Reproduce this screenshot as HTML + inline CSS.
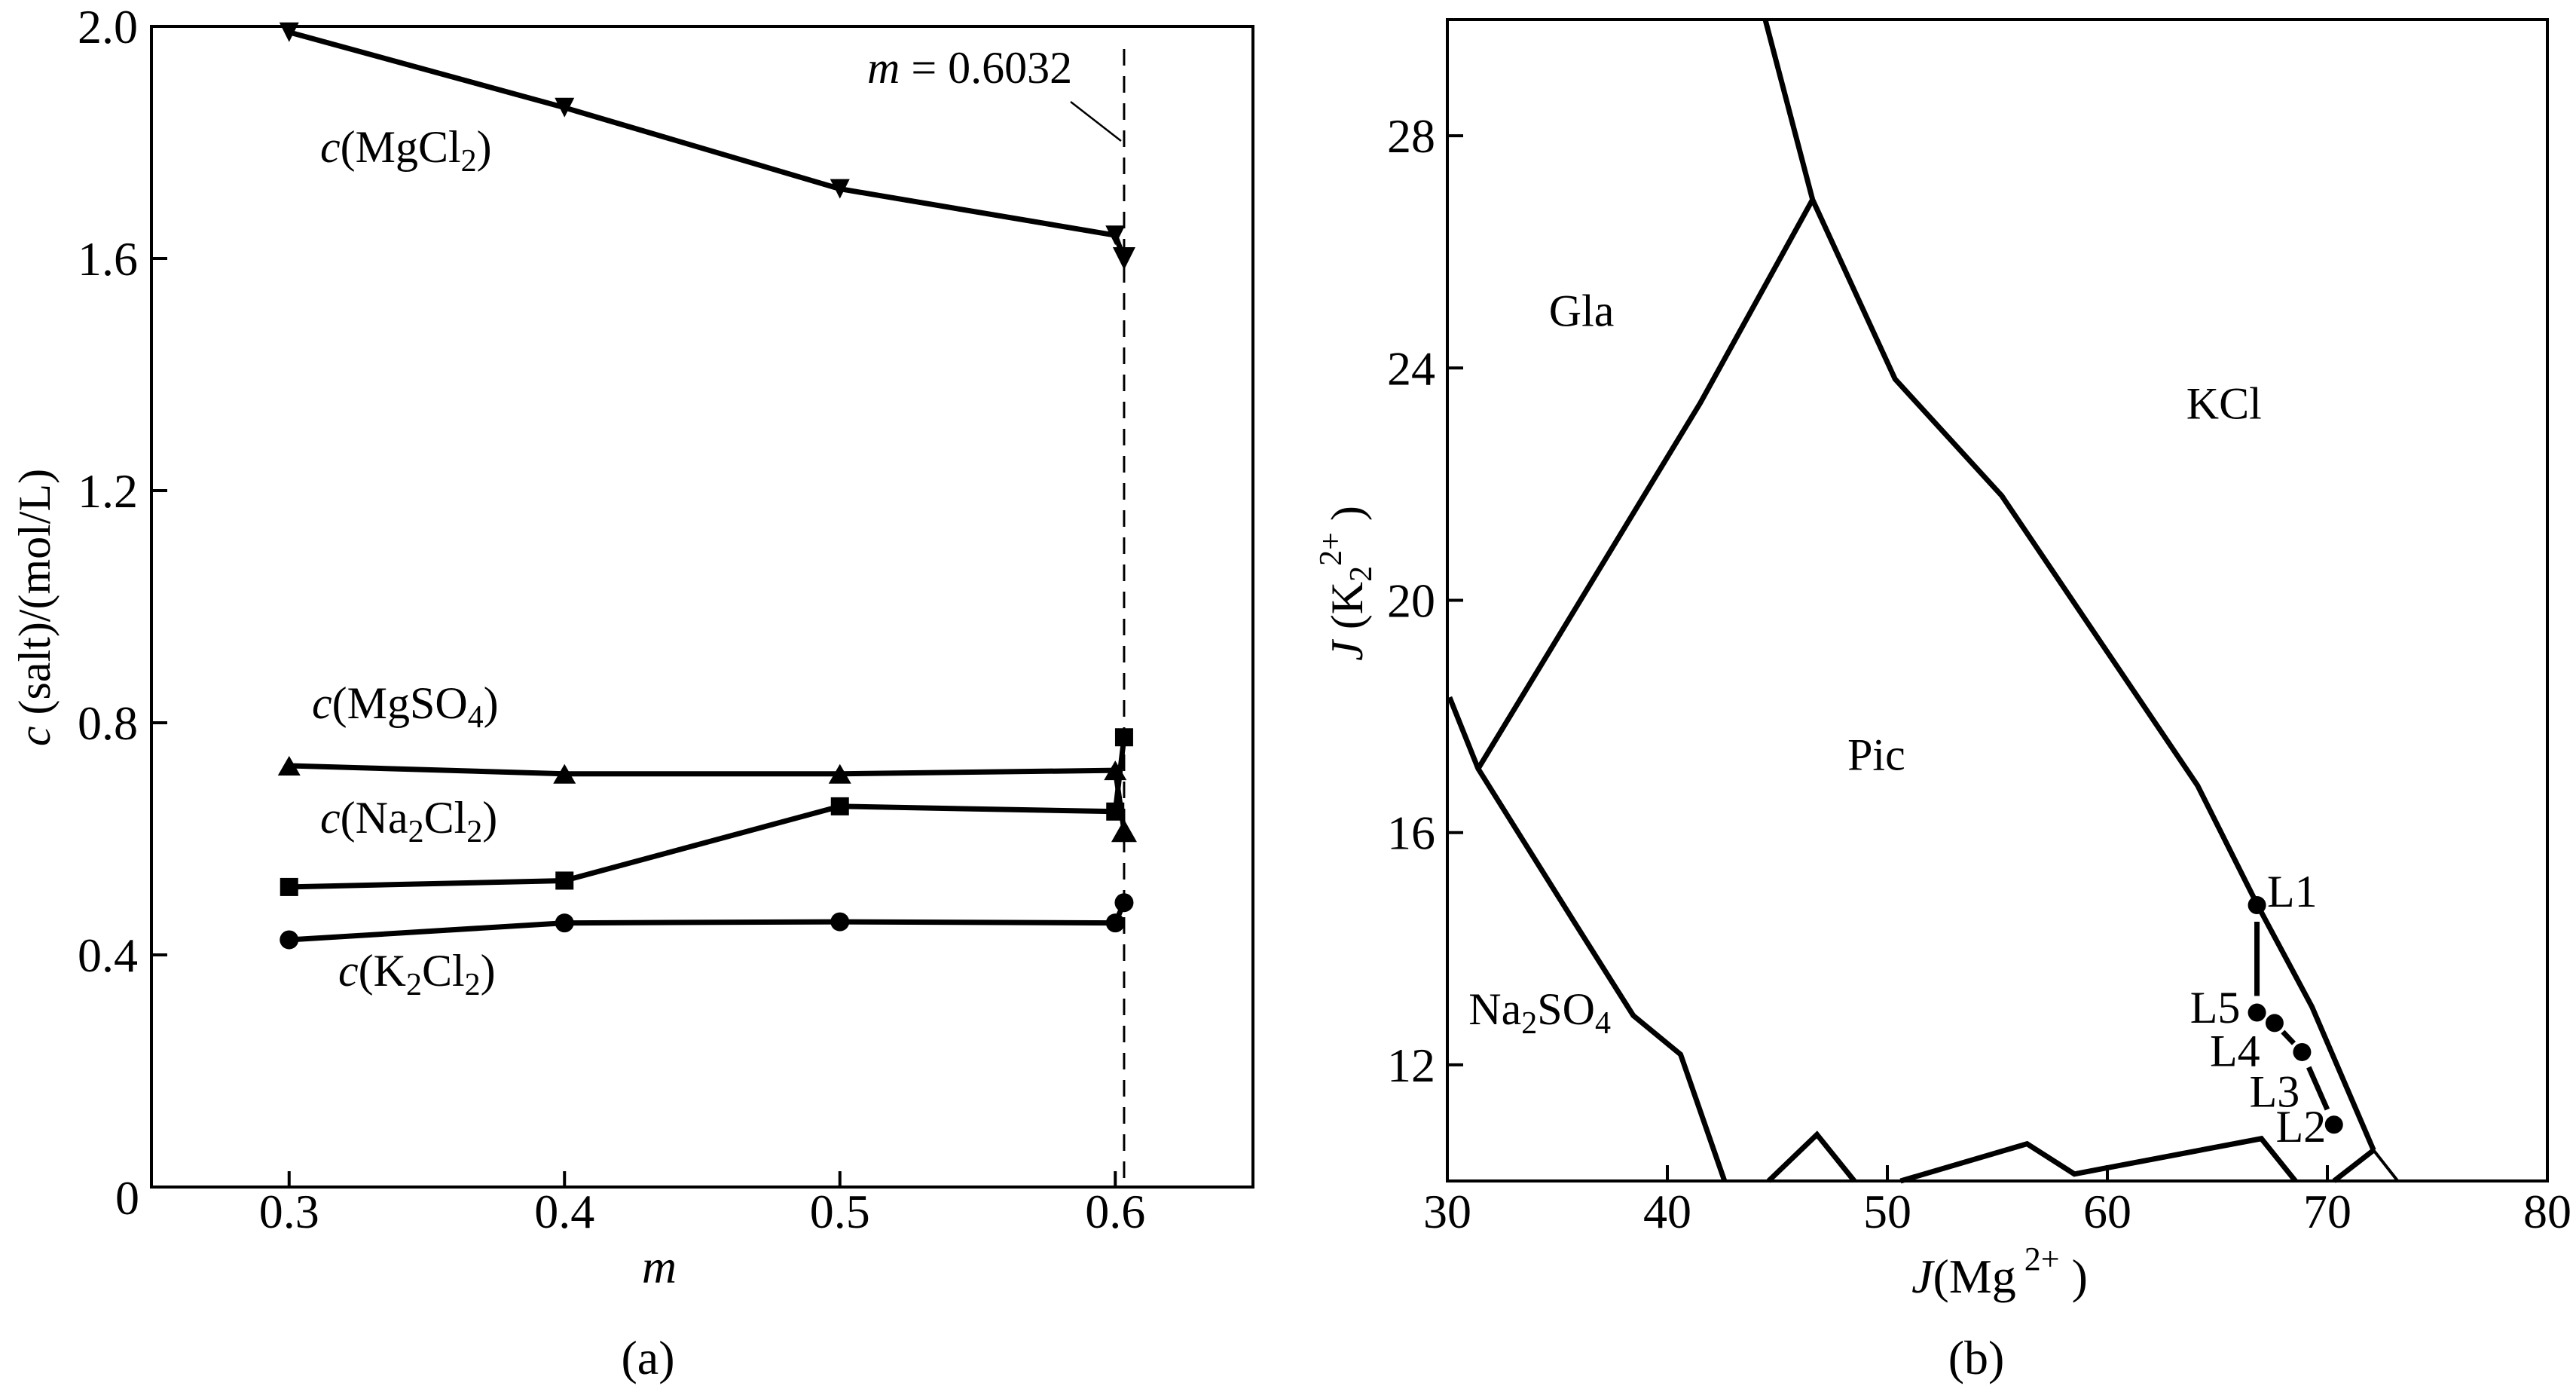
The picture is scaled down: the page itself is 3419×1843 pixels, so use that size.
<!DOCTYPE html>
<html><head><meta charset="utf-8"><style>
body{margin:0;background:#fff}
svg{display:block}
text{font-family:"Liberation Serif",serif;fill:#000}
</style></head><body>
<svg id="svg" width="3419" height="1843" viewBox="0 0 3419 1843" xmlns="http://www.w3.org/2000/svg"></svg>
<script>
// ---- Chart (a) data ----
const mVals = [0.3, 0.4, 0.5, 0.6, 0.6032];
const mgcl2 = [1.99, 1.86, 1.72, 1.64, 1.60];
const mgso4 = [0.726, 0.712, 0.712, 0.718, 0.614];
const na2cl2 = [0.517, 0.528, 0.656, 0.647, 0.775];
const k2cl2 = [0.426, 0.455, 0.457, 0.455, 0.49];
const xTicksA = [0.3, 0.4, 0.5, 0.6];
const yTicksA = [0.4, 0.8, 1.2, 1.6, 2.0];
const mLine = 0.6032;
// ---- Chart (b) data ----
const bTop = [[44.45,30],[46.6,26.9],[50.35,23.81],[55.2,21.8],[64.1,16.81],[66.8,14.77],[69.3,13.0],[72.1,10.53]];
const bTopEnd = [[72.1,10.53],[73.2,10]];
const bGla = [[46.6,26.9],[41.5,23.4],[31.4,17.1]];
const bLeft = [[30.1,18.33],[31.4,17.1],[35.7,14.5],[38.45,12.85],[40.6,12.18],[42.6,10]];
const bBump = [[44.6,10],[46.8,10.8],[48.5,10]];
const bBottom = [[50.6,10],[56.35,10.64],[58.5,10.12],[67.0,10.73],[68.55,10]];
const bRight = [[70.3,10],[72.1,10.53]];
const lNames = ["L1","L5","L4","L3","L2"];
const lX = [66.8, 66.8, 67.6, 68.85, 70.3];
const lY = [14.75, 12.9, 12.72, 12.22, 10.97];
const lLabX = [68.4, 64.9, 65.8, 67.6, 68.8];
const lLabY = [15.0, 13.0, 12.25, 11.55, 10.95];
const xTicksB = [30,40,50,60,70,80];
const yTicksB = [12,16,20,24,28];

const NS="http://www.w3.org/2000/svg";
const svg=document.getElementById('svg');
function el(tag,attrs,parent){const e=document.createElementNS(NS,tag);for(const k in attrs)e.setAttribute(k,attrs[k]);(parent||svg).appendChild(e);return e;}
function txt(x,y,html,size,anchor,name,parent){const t=el('text',{x:x,y:y,'font-size':size,'text-anchor':anchor||'middle'},parent);t.innerHTML=html;


return t;}

// ===== Chart A =====
const A={x0:201,x1:1663,y0:1575,y1:35};
const ax=v=>A.x0+(v-0.25)/(0.65-0.25)*(A.x1-A.x0);
const ay=v=>A.y0-(v-0)/(2.0)*(A.y0-A.y1);
const gA=el('g',{});


const frA=el('rect',{x:A.x0,y:A.y1,width:A.x1-A.x0,height:A.y0-A.y1,fill:'none',stroke:'#000','stroke-width':4},gA);


xTicksA.forEach(v=>{const t=el('line',{x1:ax(v),x2:ax(v),y1:A.y0,y2:A.y0-21,stroke:'#000','stroke-width':4},gA);


txt(ax(v),1629,v.toFixed(1),64,'middle','x-tick-label',gA);});
yTicksA.forEach(v=>{const t=el('line',{x1:A.x0,x2:A.x0+21,y1:ay(v),y2:ay(v),stroke:'#000','stroke-width':4},gA);


txt(183,ay(v)+22,v.toFixed(1),64,'end','y-tick-label',gA);});
txt(169,1611,'0',64,'middle','origin-label',gA);
const dl=el('line',{x1:ax(mLine),x2:ax(mLine),y1:A.y1+30,y2:A.y0,stroke:'#000','stroke-width':3,'stroke-dasharray':'22,14'},gA);


const ll=el('line',{x1:1421,y1:135,x2:ax(mLine)-4,y2:187,stroke:'#000','stroke-width':2.5},gA);


txt(1151,110,'<tspan font-style="italic">m</tspan> = 0.6032',60,'start','m-annotation',gA);

function series(vals,marker,name){
 const pts=mVals.map((m,i)=>[ax(m),ay(vals[i])]);
 const p=el('polyline',{points:pts.map(p=>p.join(',')).join(' '),fill:'none',stroke:'#000','stroke-width':7,'stroke-linejoin':'round'},gA);
 
 
 pts.forEach(([x,y],i)=>{let m;const s=(i==4)?15:13;
  if(marker=='down') m=el('polygon',{points:`${x-s},${y-s} ${x+s},${y-s} ${x},${y+s}`,fill:'#000'},gA);
  else if(marker=='up') m=el('polygon',{points:`${x-s-2},${y+s} ${x+s+2},${y+s} ${x},${y-s}`,fill:'#000'},gA);
  else if(marker=='sq') m=el('rect',{x:x-12,y:y-12,width:24,height:24,fill:'#000'},gA);
  else m=el('circle',{cx:x,cy:y,r:12.5,fill:'#000'},gA);
  
  });
}
series(mgcl2,'down','mgcl2');
series(mgso4,'up','mgso4');
series(na2cl2,'sq','na2cl2');
series(k2cl2,'circ','k2cl2');
txt(425,215,'<tspan font-style="italic">c</tspan>(MgCl<tspan font-size="42" dy="12">2</tspan><tspan dy="-12">)</tspan>',60,'start','label-mgcl2',gA);
txt(414,953,'<tspan font-style="italic">c</tspan>(MgSO<tspan font-size="42" dy="12">4</tspan><tspan dy="-12">)</tspan>',60,'start','label-mgso4',gA);
txt(425,1105,'<tspan font-style="italic">c</tspan>(Na<tspan font-size="42" dy="12">2</tspan><tspan dy="-12">Cl</tspan><tspan font-size="42" dy="12">2</tspan><tspan dy="-12">)</tspan>',60,'start','label-na2cl2',gA);
txt(449,1308,'<tspan font-style="italic">c</tspan>(K<tspan font-size="42" dy="12">2</tspan><tspan dy="-12">Cl</tspan><tspan font-size="42" dy="12">2</tspan><tspan dy="-12">)</tspan>',60,'start','label-k2cl2',gA);
const yt=txt(0,0,'<tspan font-style="italic">c</tspan> (salt)/(mol/L)',60,'middle','y-axis-title-a',gA);
yt.setAttribute('transform','translate(66,806) rotate(-90)');
txt(875,1702,'<tspan font-style="italic">m</tspan>',64,'middle','x-axis-title-a',gA);
txt(860,1823,'(a)',64,'middle','caption-a',gA);

// ===== Chart B =====
const B={x0:1921,x1:3381,y0:1567,y1:26};
const bx=v=>B.x0+(v-30)/50*(B.x1-B.x0);
const by=v=>B.y0-(v-10)/20*(B.y0-B.y1);
const gB=el('g',{});


const frB=el('rect',{x:B.x0,y:B.y1,width:B.x1-B.x0,height:B.y0-B.y1,fill:'none',stroke:'#000','stroke-width':4},gB);


xTicksB.forEach(v=>{const t=el('line',{x1:bx(v),x2:bx(v),y1:B.y0,y2:B.y0-21,stroke:'#000','stroke-width':4},gB);


txt(bx(v),1629,String(v),64,'middle','x-tick-label',gB);});
yTicksB.forEach(v=>{const t=el('line',{x1:B.x0,x2:B.x0+21,y1:by(v),y2:by(v),stroke:'#000','stroke-width':4},gB);


txt(1905,by(v)+22,String(v),64,'end','y-tick-label',gB);});
function bline(arr,w,name){const p=el('polyline',{points:arr.map(q=>bx(q[0])+','+by(q[1])).join(' '),fill:'none',stroke:'#000','stroke-width':w,'stroke-linejoin':'miter'},gB);

}
bline(bTop,7,'kcl-pic-boundary');
bline(bTopEnd,4,'kcl-boundary-end');
bline(bGla,7,'gla-pic-boundary');
bline(bLeft,7,'na2so4-boundary');
bline(bBump,7,'bottom-bump-boundary');
bline(bBottom,7,'bottom-boundary');
bline(bRight,7,'right-bottom-boundary');
for(let i=0;i<lX.length-1;i++){
 if(i==1) continue;
 const x1=bx(lX[i]),y1=by(lY[i]),x2=bx(lX[i+1]),y2=by(lY[i+1]);
 const d=Math.hypot(x2-x1,y2-y1),g=Math.min(22,d*0.3),ux=(x2-x1)/d,uy=(y2-y1)/d;
 const s=el('line',{x1:x1+ux*g,y1:y1+uy*g,x2:x2-ux*g,y2:y2-uy*g,stroke:'#000','stroke-width':7},gB);
 
 
}
lX.forEach((x,i)=>{const c=el('circle',{cx:bx(x),cy:by(lY[i]),r:12,fill:'#000'},gB);


txt(bx(lLabX[i]),by(lLabY[i])+21,lNames[i],60,'middle','label-'+lNames[i].toLowerCase(),gB);});
txt(bx(36.1),by(25.0)+21,'Gla',60,'middle','region-gla',gB);
txt(bx(65.3),by(23.4)+21,'KCl',60,'middle','region-kcl',gB);
txt(bx(49.5),by(17.35)+21,'Pic',60,'middle','region-pic',gB);
txt(bx(34.2),by(12.97)+21,'Na<tspan font-size="42" dy="12">2</tspan><tspan dy="-12">SO</tspan><tspan font-size="42" dy="12">4</tspan>',60,'middle','region-na2so4',gB);
const yb=txt(0,0,'<tspan font-style="italic">J</tspan> (K<tspan font-size="42" dy="12">2</tspan><tspan font-size="42" dy="-40">2+</tspan><tspan dy="28"> )</tspan>',60,'middle','y-axis-title-b',gB);
yb.setAttribute('transform','translate(1808,774) rotate(-90)');
txt(2654,1715,'<tspan font-style="italic">J</tspan>(Mg<tspan font-size="44" dy="-30"> 2+</tspan><tspan dy="30"> )</tspan>',64,'middle','x-axis-title-b',gB);
txt(2623,1823,'(b)',64,'middle','caption-b',gB);
</script>
</body></html>
